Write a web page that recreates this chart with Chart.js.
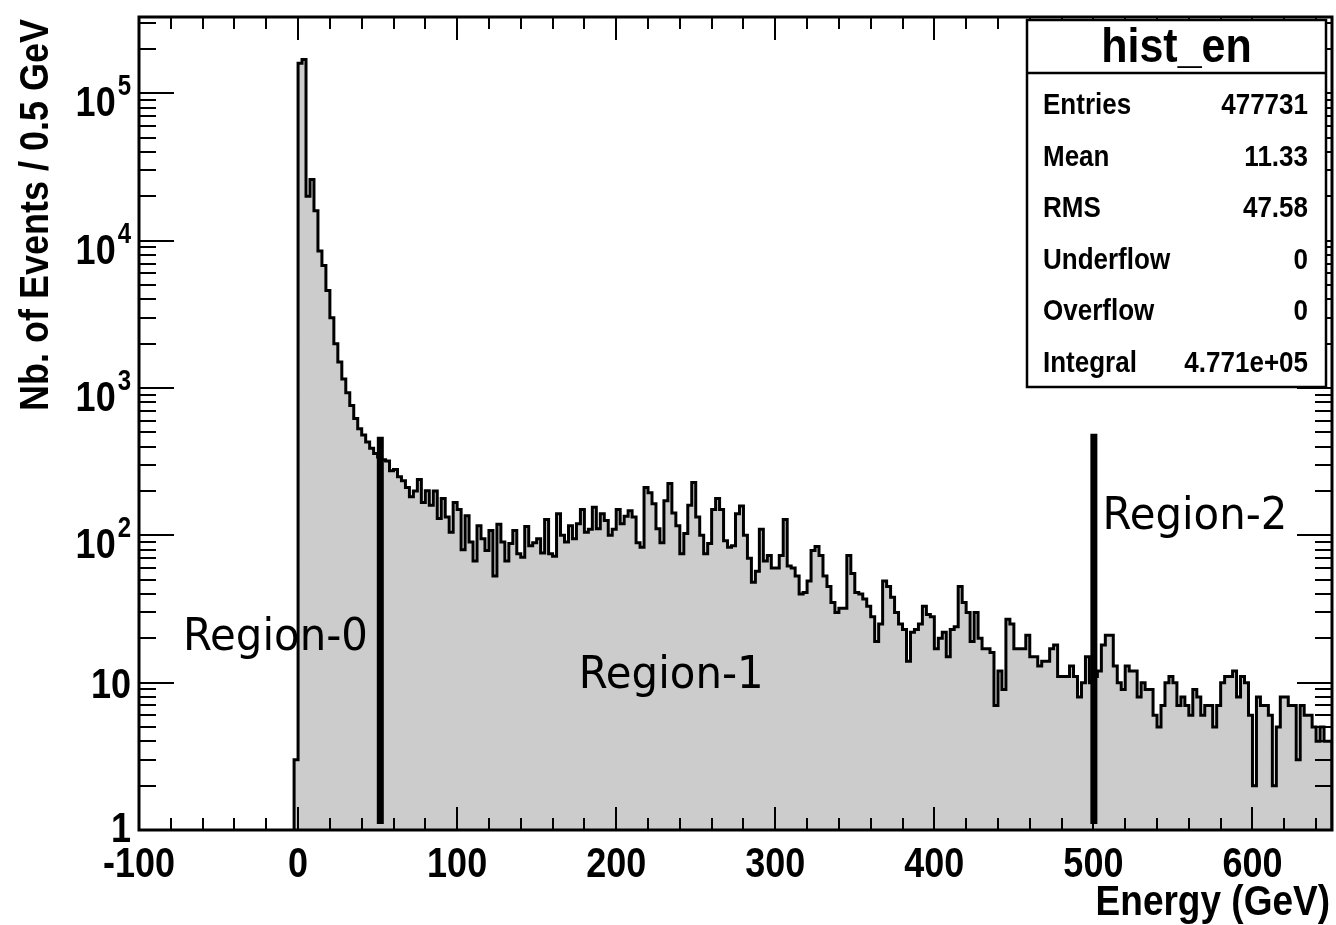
<!DOCTYPE html>
<html>
<head>
<meta charset="utf-8">
<script src="https://cdn.jsdelivr.net/npm/chart.js@4/dist/chart.umd.min.js"></script>
<style>
  html, body { margin: 0; padding: 0; background: #fff; }
  #wrap { width: 1336px; height: 925px; }
</style>
</head>
<body>
<div id="wrap"><canvas id="hist"></canvas></div>
<script>
// hist_en: 2.5 GeV bins starting at -2.5 GeV
const binLow = -2.5
const binWidth = 2.5
const counts = [
  3,
  160000, 170000, 20000, 26000, 16000, 8500, 6800, 4600, 3000, 2000,
  1500, 1150, 930, 760, 620, 530, 480, 430, 390, 360,
  340, 326, 320, 275, 280, 250, 235, 211, 183, 200,
  239, 167, 201, 160, 200, 130, 178, 133, 105, 167,
  150, 80, 136, 90, 67, 116, 95, 79, 108, 53,
  119, 90, 67, 88, 108, 75, 71, 115, 85, 89,
  95, 76, 128, 75, 72, 140, 100, 90, 116, 95,
  120, 150, 105, 110, 155, 111, 140, 126, 100, 110,
  150, 120, 135, 147, 133, 89, 83, 211, 195, 164,
  111, 89, 172, 225, 142, 116, 75, 103, 160, 228,
  133, 100, 75, 88, 150, 178, 150, 92, 83, 85,
  140, 158, 100, 70, 48, 57, 110, 67, 73, 60,
  60, 73, 128, 62, 60, 53, 40, 41, 49, 79,
  84, 73, 53, 45, 35, 30, 32, 32, 73, 55,
  41, 40, 37, 33, 28, 19, 25, 49, 45, 38,
  30, 25, 23, 14, 22, 23, 25, 33, 29, 28,
  17, 20, 22, 15, 23, 24, 45, 35, 30, 19,
  30, 20, 17, 17, 16, 7, 12, 9, 27, 25,
  17, 17, 17, 21, 15, 15, 13, 14, 14, 17,
  18, 11, 11, 11, 13, 11, 8, 10, 15, 10,
  11, 12, 18, 21, 21, 13, 10, 9, 13, 12,
  12, 8, 10, 9, 9, 6, 5, 7, 10, 11,
  10, 7, 8, 7, 6, 9, 8, 6, 7, 7,
  5, 7, 10, 11, 11, 12, 8, 11, 10, 6,
  2, 8, 7, 7, 6, 2, 5, 8, 8, 7,
  7, 3, 7, 6, 6, 5, 4, 5, 4, 4
]

const regionNames = ['Region-0', 'Region-1', 'Region-2']
const regionCuts = [51.7, 500.3]
const regionCutTops = [467, 490]

const xTicks = [-100, 0, 100, 200, 300, 400, 500, 600]
const yTicks = [1, 10, 100, 1000, 10000, 100000]
const yTickBase = ['1', '10', '10', '10', '10', '10']
const yTickExp = ['', '', '2', '3', '4', '5']

const histTitle = 'hist_en'
const statNames = ['Entries', 'Mean', 'RMS', 'Underflow', 'Overflow', 'Integral']
const statValues = ['477731', '11.33', '47.58', '0', '0', '4.771e+05']

const histPoints = [{x: binLow, y: 1}]
counts.forEach((c, i) => histPoints.push({x: binLow + i * binWidth, y: c}))
histPoints.push({x: binLow + counts.length * binWidth, y: 1})

const bold = px => 'bold ' + px + 'px "Liberation Sans", Arial, sans-serif'

// ROOT's Helvetica comes out tall and narrow here, so stretch glyphs upwards
function tallText(ctx, str, x, y, sy) {
  ctx.save()
  ctx.translate(x, y)
  ctx.scale(1, sy)
  ctx.fillText(str, 0, 0)
  ctx.restore()
}

const rootFrame = {
  id: 'rootFrame',
  afterDatasetsDraw(chart) {
    const {ctx, chartArea: a, scales: {x, y}} = chart
    ctx.save()
    ctx.fillStyle = '#000'
    ctx.strokeStyle = '#000'

    // ticks on all four sides, pointing inwards
    ctx.lineWidth = 2
    ctx.beginPath()
    for (let v = x.min; v <= x.max; v += 20) {
      const px = Math.round(x.getPixelForValue(v))
      const len = v % 100 === 0 ? 23 : 12
      ctx.moveTo(px, a.bottom); ctx.lineTo(px, a.bottom - len)
      ctx.moveTo(px, a.top); ctx.lineTo(px, a.top + len)
    }
    for (let d = 1; d <= y.max; d *= 10) {
      for (let m = 1; m <= 9; m++) {
        const v = m * d
        if (v > y.max) break
        const py = Math.round(y.getPixelForValue(v))
        const len = m === 1 ? 35 : 17
        ctx.moveTo(a.left, py); ctx.lineTo(a.left + len, py)
        ctx.moveTo(a.right, py); ctx.lineTo(a.right - len, py)
      }
    }
    ctx.stroke()

    ctx.lineWidth = 3
    ctx.strokeRect(a.left, a.top, a.right - a.left, a.bottom - a.top)

    // x tick labels
    ctx.font = bold(36)
    ctx.textAlign = 'center'
    ctx.textBaseline = 'alphabetic'
    xTicks.forEach(v => tallText(ctx, String(v), x.getPixelForValue(v), 877, 1.2))

    // y tick labels with exponents
    yTicks.forEach((v, i) => {
      const py = y.getPixelForValue(v)
      const right = 131
      ctx.textAlign = 'right'
      if (yTickExp[i]) {
        ctx.font = bold(24)
        tallText(ctx, yTickExp[i], right, py + 2, 1.2)
        const ew = ctx.measureText(yTickExp[i]).width
        ctx.font = bold(36)
        tallText(ctx, yTickBase[i], right - ew - 2, py + 23, 1.2)
      } else {
        ctx.font = bold(36)
        tallText(ctx, yTickBase[i], right, py + (v === 1 ? 12 : 15), 1.2)
      }
    })

    // axis titles
    ctx.font = bold(37)
    ctx.textAlign = 'right'
    tallText(ctx, 'Energy (GeV)', 1330, 915, 1.15)
    ctx.save()
    ctx.translate(48, 215)
    ctx.rotate(-Math.PI / 2)
    ctx.font = bold(36)
    ctx.textAlign = 'center'
    tallText(ctx, 'Nb. of Events / 0.5 GeV', 0, 0, 1.15)
    ctx.restore()

    // region labels
    const anchors = [[-72.4, 16.6], [176.4, 9.2], [505.7, 111]]
    ctx.font = '45px "DejaVu Sans", Verdana, sans-serif'
    ctx.textAlign = 'left'
    regionNames.forEach((name, i) => {
      const w = ctx.measureText(name).width
      ctx.save()
      ctx.translate(x.getPixelForValue(anchors[i][0]), y.getPixelForValue(anchors[i][1]))
      ctx.scale(185 / w, 1)
      ctx.fillText(name, 0, 0)
      ctx.restore()
    })

    // stats box
    const bx = 1027, by = 20, bw = 299, bh = 367
    ctx.fillStyle = '#fff'
    ctx.fillRect(bx, by, bw, bh)
    ctx.lineWidth = 2.5
    ctx.strokeRect(bx, by, bw, bh)
    ctx.beginPath()
    ctx.moveTo(bx, 73); ctx.lineTo(bx + bw, 73)
    ctx.stroke()
    ctx.fillStyle = '#000'
    ctx.font = bold(43)
    ctx.textAlign = 'center'
    tallText(ctx, histTitle, bx + bw / 2, 62, 1.1)
    ctx.font = bold(26)
    statNames.forEach((name, i) => {
      const base = 114 + i * 51.6
      ctx.textAlign = 'left'
      tallText(ctx, name, 1043, base, 1.15)
      ctx.textAlign = 'right'
      tallText(ctx, statValues[i], 1308, base, 1.15)
    })
    ctx.restore()
  }
}

const cutSets = regionCuts.map((cx, i) => ({
  data: [{x: cx, y: 1.1}, {x: cx, y: regionCutTops[i]}],
  borderColor: '#000',
  borderWidth: 7,
  borderCapStyle: 'butt',
  pointRadius: 0,
  fill: false,
  order: 1
}))

new Chart(document.getElementById('hist'), {
  type: 'line',
  data: {
    datasets: [...cutSets, {
      data: histPoints,
      stepped: 'before',
      borderColor: '#000',
      borderWidth: 3,
      backgroundColor: '#cccccc',
      fill: 'start',
      pointRadius: 0,
      order: 2
    }]
  },
  options: {
    responsive: true,
    maintainAspectRatio: false,
    animation: false,
    layout: {padding: {left: 139, right: 4, top: 17, bottom: 95}},
    scales: {
      x: {type: 'linear', min: -100, max: 650, display: false},
      y: {type: 'logarithmic', min: 1, max: 330000, display: false}
    },
    elements: {line: {tension: 0}},
    plugins: {legend: {display: false}, tooltip: {enabled: false}}
  },
  plugins: [rootFrame]
})
</script>
</body>
</html>
